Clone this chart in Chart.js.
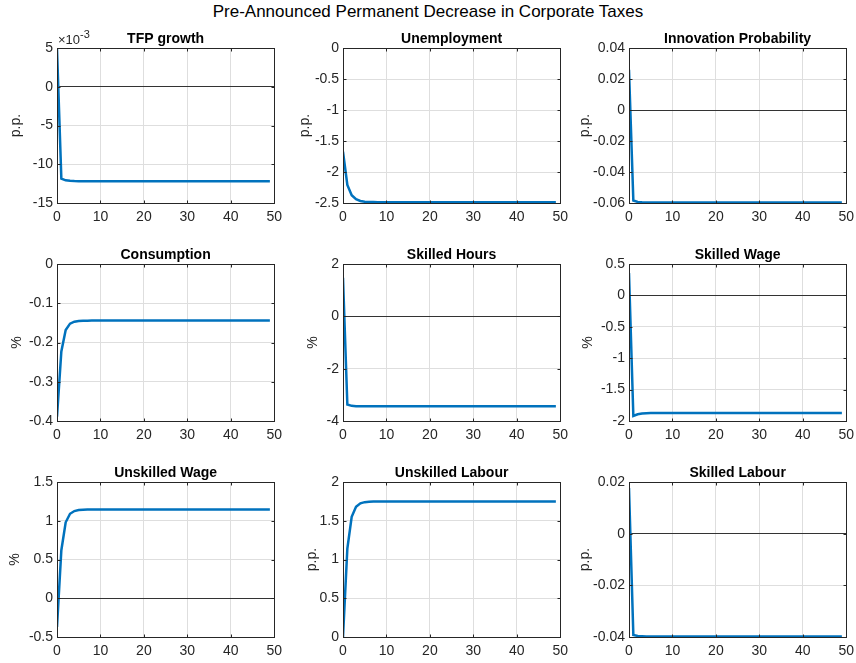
<!DOCTYPE html>
<html>
<head>
<meta charset="utf-8">
<script src="https://cdn.jsdelivr.net/npm/chart.js@4.4.1/dist/chart.umd.min.js"></script>
<style>
  html, body { margin: 0; padding: 0; background: #fff; }
  body { width: 856px; height: 663px; position: relative; overflow: hidden;
         font-family: "Liberation Sans", Arial, Helvetica, sans-serif; }
  #suptitle { position: absolute; left: 0; top: 2px; width: 856px; text-align: center;
              font-size: 17px; line-height: 20px; color: #000; }
  canvas { position: absolute; }
</style>
</head>
<body>
<div id="suptitle">Pre-Announced Permanent Decrease in Corporate Taxes</div>

<script>
// Quarters after the announcement
const periods = [
  0, 1, 2, 3, 4, 5, 6, 7, 8, 9,
  10, 11, 12, 13, 14, 15, 16, 17, 18, 19,
  20, 21, 22, 23, 24, 25, 26, 27, 28, 29,
  30, 31, 32, 33, 34, 35, 36, 37, 38, 39,
  40, 41, 42, 43, 44, 45, 46, 47, 48, 49
];

// Impulse responses
const tfpGrowth = [
  0.0049, -0.01185, -0.01207, -0.01214, -0.01217, -0.01218, -0.01218, -0.01218, -0.01218, -0.01218,
  -0.01218, -0.01218, -0.01218, -0.01218, -0.01218, -0.01218, -0.01218, -0.01218, -0.01218, -0.01218,
  -0.01218, -0.01218, -0.01218, -0.01218, -0.01218, -0.01218, -0.01218, -0.01218, -0.01218, -0.01218,
  -0.01218, -0.01218, -0.01218, -0.01218, -0.01218, -0.01218, -0.01218, -0.01218, -0.01218, -0.01218,
  -0.01218, -0.01218, -0.01218, -0.01218, -0.01218, -0.01218, -0.01218, -0.01218, -0.01218, -0.01218
];
const unemployment = [
  -1.67, -2.21, -2.375, -2.44, -2.467, -2.478, -2.483, -2.485, -2.486, -2.486,
  -2.486, -2.486, -2.486, -2.486, -2.486, -2.486, -2.486, -2.486, -2.486, -2.486,
  -2.486, -2.486, -2.486, -2.486, -2.486, -2.486, -2.486, -2.486, -2.486, -2.486,
  -2.486, -2.486, -2.486, -2.486, -2.486, -2.486, -2.486, -2.486, -2.486, -2.486,
  -2.486, -2.486, -2.486, -2.486, -2.486, -2.486, -2.486, -2.486, -2.486, -2.486
];
const innovationProb = [
  0.026, -0.0584, -0.0593, -0.0595, -0.0596, -0.0596, -0.0596, -0.0596, -0.0596, -0.0596,
  -0.0596, -0.0596, -0.0596, -0.0596, -0.0596, -0.0596, -0.0596, -0.0596, -0.0596, -0.0596,
  -0.0596, -0.0596, -0.0596, -0.0596, -0.0596, -0.0596, -0.0596, -0.0596, -0.0596, -0.0596,
  -0.0596, -0.0596, -0.0596, -0.0596, -0.0596, -0.0596, -0.0596, -0.0596, -0.0596, -0.0596,
  -0.0596, -0.0596, -0.0596, -0.0596, -0.0596, -0.0596, -0.0596, -0.0596, -0.0596, -0.0596
];
const consumption = [
  -0.389, -0.223, -0.168, -0.152, -0.147, -0.145, -0.1445, -0.1443, -0.1442, -0.1442,
  -0.1442, -0.1442, -0.1442, -0.1442, -0.1442, -0.1442, -0.1442, -0.1442, -0.1442, -0.1442,
  -0.1442, -0.1442, -0.1442, -0.1442, -0.1442, -0.1442, -0.1442, -0.1442, -0.1442, -0.1442,
  -0.1442, -0.1442, -0.1442, -0.1442, -0.1442, -0.1442, -0.1442, -0.1442, -0.1442, -0.1442,
  -0.1442, -0.1442, -0.1442, -0.1442, -0.1442, -0.1442, -0.1442, -0.1442, -0.1442, -0.1442
];
const skilledHours = [
  1.47, -3.37, -3.42, -3.432, -3.436, -3.437, -3.437, -3.437, -3.437, -3.437,
  -3.437, -3.437, -3.437, -3.437, -3.437, -3.437, -3.437, -3.437, -3.437, -3.437,
  -3.437, -3.437, -3.437, -3.437, -3.437, -3.437, -3.437, -3.437, -3.437, -3.437,
  -3.437, -3.437, -3.437, -3.437, -3.437, -3.437, -3.437, -3.437, -3.437, -3.437,
  -3.437, -3.437, -3.437, -3.437, -3.437, -3.437, -3.437, -3.437, -3.437, -3.437
];
const skilledWage = [
  0.356, -1.92, -1.893, -1.881, -1.876, -1.874, -1.873, -1.873, -1.873, -1.873,
  -1.873, -1.873, -1.873, -1.873, -1.873, -1.873, -1.873, -1.873, -1.873, -1.873,
  -1.873, -1.873, -1.873, -1.873, -1.873, -1.873, -1.873, -1.873, -1.873, -1.873,
  -1.873, -1.873, -1.873, -1.873, -1.873, -1.873, -1.873, -1.873, -1.873, -1.873,
  -1.873, -1.873, -1.873, -1.873, -1.873, -1.873, -1.873, -1.873, -1.873, -1.873
];
const unskilledWage = [
  -0.37, 0.62, 0.98, 1.09, 1.125, 1.138, 1.142, 1.144, 1.145, 1.145,
  1.145, 1.145, 1.145, 1.145, 1.145, 1.145, 1.145, 1.145, 1.145, 1.145,
  1.145, 1.145, 1.145, 1.145, 1.145, 1.145, 1.145, 1.145, 1.145, 1.145,
  1.145, 1.145, 1.145, 1.145, 1.145, 1.145, 1.145, 1.145, 1.145, 1.145,
  1.145, 1.145, 1.145, 1.145, 1.145, 1.145, 1.145, 1.145, 1.145, 1.145
];
const unskilledLabour = [
  0, 1.14, 1.55, 1.68, 1.725, 1.74, 1.745, 1.747, 1.748, 1.748,
  1.748, 1.748, 1.748, 1.748, 1.748, 1.748, 1.748, 1.748, 1.748, 1.748,
  1.748, 1.748, 1.748, 1.748, 1.748, 1.748, 1.748, 1.748, 1.748, 1.748,
  1.748, 1.748, 1.748, 1.748, 1.748, 1.748, 1.748, 1.748, 1.748, 1.748,
  1.748, 1.748, 1.748, 1.748, 1.748, 1.748, 1.748, 1.748, 1.748, 1.748
];
const skilledLabour = [
  0.0177, -0.0392, -0.0396, -0.0397, -0.0398, -0.0398, -0.0398, -0.0398, -0.0398, -0.0398,
  -0.0398, -0.0398, -0.0398, -0.0398, -0.0398, -0.0398, -0.0398, -0.0398, -0.0398, -0.0398,
  -0.0398, -0.0398, -0.0398, -0.0398, -0.0398, -0.0398, -0.0398, -0.0398, -0.0398, -0.0398,
  -0.0398, -0.0398, -0.0398, -0.0398, -0.0398, -0.0398, -0.0398, -0.0398, -0.0398, -0.0398,
  -0.0398, -0.0398, -0.0398, -0.0398, -0.0398, -0.0398, -0.0398, -0.0398, -0.0398, -0.0398
];

// Panel titles, units and y-axis limits
const panelTitles = ['TFP growth', 'Unemployment', 'Innovation Probability',
                     'Consumption', 'Skilled Hours', 'Skilled Wage',
                     'Unskilled Wage', 'Unskilled Labour', 'Skilled Labour'];
const panelUnits  = ['p.p.', 'p.p.', 'p.p.', '%', '%', '%', '%', 'p.p.', 'p.p.'];
const panelSeries = [tfpGrowth, unemployment, innovationProb,
                     consumption, skilledHours, skilledWage,
                     unskilledWage, unskilledLabour, skilledLabour];
const yMin  = [-0.015, -2.5, -0.06, -0.4, -4, -2, -0.5, 0, -0.04];
const yMax  = [0.005, 0, 0.04, 0, 2, 0.5, 1.5, 2, 0.02];
const yStep = [0.005, 0.5, 0.02, 0.1, 2, 0.5, 0.5, 0.5, 0.02];
const xTicks = { min: 0, max: 50, step: 10 };

// Grid geometry (pixels)
const colLeft = [57, 343, 629];
const rowTop = [48, 264, 482];
const rowHeight = [155, 157, 155];
const plotWidth = 219;
const yAxisWidth = 57;
const xAxisHeight = 26;
const padTop = 48;
const padRight = 12;
// distance from the plot's left edge to the centre of each y-axis label
const ylabelGap = [41, 38, 44, 40, 30, 41, 41.5, 31, 43.5];

const FONT = '"Liberation Sans", Arial, Helvetica, sans-serif';
const AXIS_COLOR = '#262626';
const GRID_COLOR = '#dedede';
const ZERO_COLOR = '#333333';
const LINE_COLOR = '#0072BD';

Chart.defaults.font.family = FONT;
Chart.defaults.color = AXIS_COLOR;

function fmt(v) {
  const r = parseFloat(Number(v).toFixed(8));
  return (r === 0 ? 0 : r).toString();
}

// Box, inward tick marks, panel title and the axis exponent
const framePlugin = {
  id: 'frame',
  afterDraw(chart, args, opts) {
    const { ctx, chartArea: a, scales } = chart;
    const xs = scales.x, ys = scales.y;
    const L = Math.round(a.left) + 0.5, R = Math.round(a.right) + 0.5;
    const T = Math.round(a.top) + 0.5, B = Math.round(a.bottom) + 0.5;
    const tl = 3;
    ctx.save();
    ctx.strokeStyle = AXIS_COLOR;
    ctx.lineWidth = 1;
    ctx.beginPath();
    xs.ticks.forEach(t => {
      const p = Math.round(xs.getPixelForValue(t.value)) + 0.5;
      ctx.moveTo(p, B); ctx.lineTo(p, B - tl);
      ctx.moveTo(p, T); ctx.lineTo(p, T + tl);
    });
    ys.ticks.forEach(t => {
      const p = Math.round(ys.getPixelForValue(t.value)) + 0.5;
      ctx.moveTo(L, p); ctx.lineTo(L + tl, p);
      ctx.moveTo(R, p); ctx.lineTo(R - tl, p);
    });
    ctx.stroke();
    ctx.strokeRect(L, T, R - L, B - T);

    ctx.fillStyle = '#000';
    ctx.font = 'bold 14px ' + FONT;
    ctx.textAlign = 'center';
    ctx.textBaseline = 'alphabetic';
    ctx.fillText(opts.title, (a.left + a.right) / 2, a.top - 5);

    if (opts.exponent) {
      ctx.fillStyle = AXIS_COLOR;
      ctx.textAlign = 'left';
      ctx.font = '13px ' + FONT;
      const base = '\u00d710';
      ctx.fillText(base, a.left + 1, a.top - 4);
      const w = ctx.measureText(base).width;
      ctx.font = '11px ' + FONT;
      ctx.fillText(opts.exponent, a.left + 1 + w, a.top - 10);
    }
    ctx.restore();
  }
};

panelSeries.forEach((series, i) => {
  const col = i % 3, row = Math.floor(i / 3);
  const h = rowHeight[row];
  const canvas = document.createElement('canvas');
  canvas.width = yAxisWidth + plotWidth + padRight;
  canvas.height = padTop + h + xAxisHeight;
  canvas.style.left = (colLeft[col] - yAxisWidth) + 'px';
  canvas.style.top = (rowTop[row] - padTop) + 'px';
  document.body.appendChild(canvas);

  const scaled = i === 0; // TFP growth is shown in units of 10^-3
  const labelFont = { size: 14, lineHeight: 1 };

  new Chart(canvas, {
    type: 'line',
    data: {
      labels: periods,
      datasets: [{
        data: periods.map((p, k) => ({ x: p, y: series[k] })),
        borderColor: LINE_COLOR,
        borderWidth: 2.5,
        pointRadius: 0,
        tension: 0,
        fill: false
      }]
    },
    options: {
      responsive: false,
      animation: false,
      devicePixelRatio: 1,
      layout: { padding: { top: padTop, right: padRight, left: 0, bottom: 0 } },
      plugins: {
        legend: { display: false },
        tooltip: { enabled: false },
        frame: { title: panelTitles[i], exponent: scaled ? '-3' : null }
      },
      scales: {
        x: {
          type: 'linear',
          min: xTicks.min, max: xTicks.max,
          border: { display: false },
          grid: { color: GRID_COLOR, lineWidth: 1, drawTicks: false },
          ticks: { stepSize: xTicks.step, padding: 6, font: { size: 14 }, color: AXIS_COLOR,
                   maxRotation: 0, autoSkip: false, callback: v => fmt(v) },
          afterFit: s => { s.height = xAxisHeight; }
        },
        y: {
          type: 'linear',
          min: yMin[i], max: yMax[i],
          border: { display: false },
          grid: {
            drawTicks: false,
            lineWidth: 1,
            color: c => (c.tick && Math.abs(c.tick.value) < 1e-12) ? ZERO_COLOR : GRID_COLOR
          },
          ticks: {
            stepSize: yStep[i], padding: 4, font: { size: 14 }, color: AXIS_COLOR,
            autoSkip: false,
            callback: v => scaled ? fmt(Math.round(v * 1000)) : fmt(v)
          },
          title: {
            display: true, text: panelUnits[i], color: AXIS_COLOR, font: labelFont,
            padding: { top: yAxisWidth - ylabelGap[i] - 7, bottom: 0 }
          },
          afterFit: s => { s.width = yAxisWidth; }
        }
      }
    },
    plugins: [framePlugin]
  });
});
</script>
</body>
</html>
